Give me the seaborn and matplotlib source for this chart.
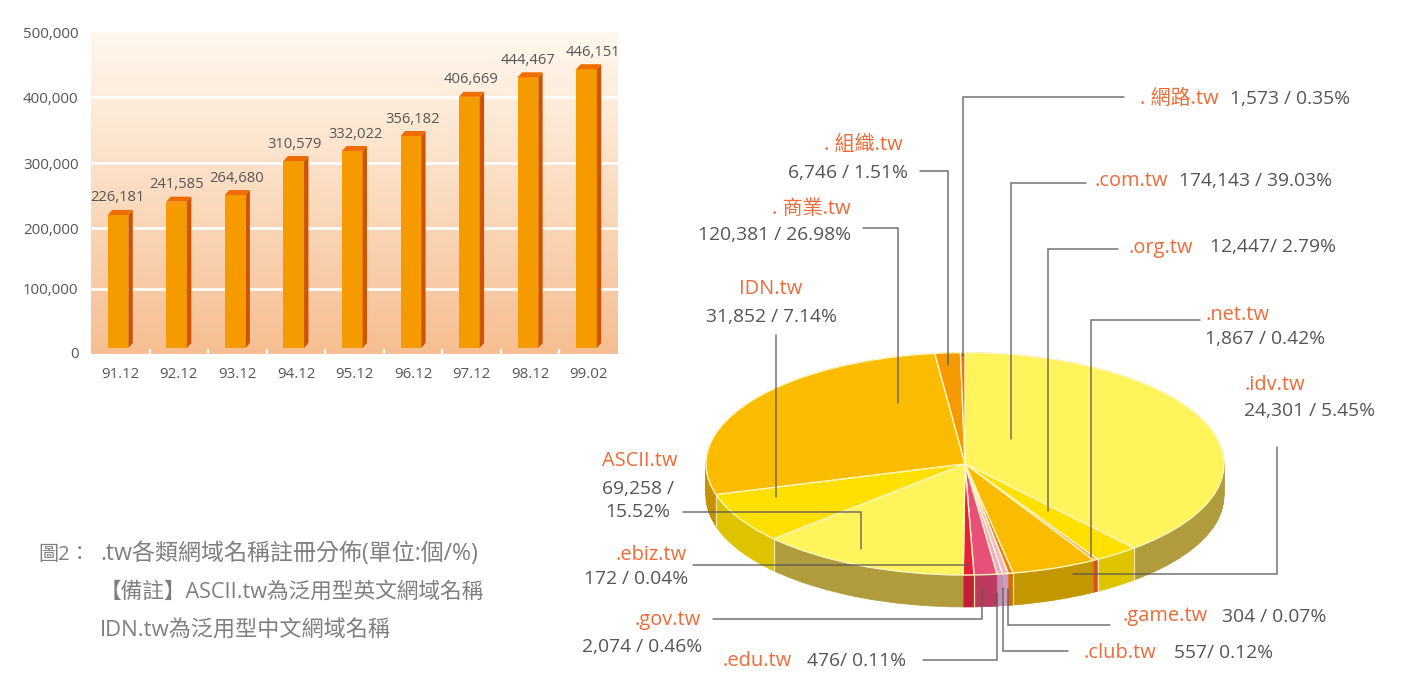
import numpy as np
import matplotlib
matplotlib.use("Agg")
import matplotlib.pyplot as plt
from matplotlib.colors import LinearSegmentedColormap
from matplotlib.patches import Polygon
import seaborn as sns

# ---- bar chart data ----
periods = ["91.12", "92.12", "93.12", "94.12", "95.12", "96.12", "97.12", "98.12", "99.02"]
bar_labels = ["226,181", "241,585", "264,680", "310,579", "332,022", "356,182", "406,669", "444,467", "446,151"]
# heights as drawn in the picture, read against the axis
bar_heights = [215000, 235700, 246000, 299000, 314600, 338000, 399000, 429400, 442000]
label_dx = [-2.5, -2, -0.5, -1.5, 1, -0.5, -0.5, -2, 4]
tick_values = [0, 99700, 194700, 295900, 398000, 500000]
tick_labels = ["0", "100,000", "200,000", "300,000", "400,000", "500,000"]

# ---- pie data (clockwise from the top) ----
slice_names = [".com.tw", ".org.tw", ".net.tw", ".idv.tw", ".game.tw", ".club.tw", ".edu.tw",
               ".gov.tw", ".ebiz.tw", "ASCII.tw", "IDN.tw", ". 商業.tw", ". 組織.tw", ". 網路.tw"]
slice_details = ["174,143 / 39.03%", "12,447/ 2.79%", "1,867 / 0.42%", "24,301 / 5.45%", "304 / 0.07%",
                 "557/ 0.12%", "476/ 0.11%", "2,074 / 0.46%", "172 / 0.04%", "69,258 /\n15.52%",
                 "31,852 / 7.14%", "120,381 / 26.98%", "6,746 / 1.51%", "1,573 / 0.35%"]
# apparent slice sizes (degrees) as drawn in the picture
slice_degrees = [139.3, 9.9, 1.0, 19.1, 1.1, 1.3, 1.2, 5.1, 2.4, 47.2, 26.4, 99.3, 5.7, 1.0]
top_colors = ["#FFF45C", "#FFE000", "#F5A050", "#FBBC00", "#F07A10", "#F0B8D8", "#EDA8CE",
              "#E8507A", "#E8203C", "#FFF45C", "#FFE000", "#FBBC00", "#F59A00", "#F0701E"]
side_colors = ["#B09C3C", "#DEC400", "#D8501E", "#C49600", "#D86A00", "#CC9CBC", "#C690B4",
               "#BC3A60", "#C41E34", "#B09C3C", "#DEC400", "#C69200", "#C67C00", "#C05A18"]

caption_lines = ["圖2：", ".tw各類網域名稱註冊分佈(單位:個/%)", "【備註】ASCII.tw為泛用型英文網域名稱", "IDN.tw為泛用型中文網域名稱"]
caption_sizes = [14.5, 16.6, 15.6, 15.9]

W, H = 1406, 686
BAR_FLOOR = 7800
BAR_W, SIDE_DX, SIDE_DY = 0.352, 0.075, 7800
DEPTH_PX, RX, RY, CX, CY = 32, 259.0, 111.15, 965.0, 463.85

sns.set_theme(style="white")
FONT = ["Open Sans", "Noto Sans CJK TC", "DejaVu Sans"]
plt.rcParams["font.family"] = FONT
DARK, RED = "#555555", "#EE6B38"

fig = plt.figure(figsize=(W / 100, H / 100), dpi=100, facecolor="white")


def rect(x0, y0, x1, y1):
    return [x0 / W, 1 - y1 / H, (x1 - x0) / W, (y1 - y0) / H]


# ---------- bar chart ----------
ax = fig.add_axes(rect(91, 32, 618, 354))
sns.barplot(x=periods, y=bar_heights, color="#F59B00", saturation=1, width=BAR_W, ax=ax, zorder=3)
ymin = -1558
grad = LinearSegmentedColormap.from_list("bg", ["#F6BE92", "#FBDCC0", "#FFF8EE"])
ax.imshow(np.linspace(0, 1, 256)[:, None], origin="lower", cmap=grad, aspect="auto",
          extent=(-0.5, 8.5, ymin, 500000), zorder=0)
ax.hlines(tick_values[1:-1], -0.5, 8.5, color="white", lw=1.9, zorder=1)
for b in np.arange(0.5, 8.5):
    ax.vlines(b, ymin, 6500, color="white", lw=1.6, zorder=1)
for i, p in enumerate(list(ax.patches)):
    h = bar_heights[i]
    l = i - BAR_W / 2 - SIDE_DX / 2
    r = l + BAR_W
    p.set_x(l)
    p.set_y(BAR_FLOOR)
    p.set_height(h - BAR_FLOOR)
    p.set_linewidth(0)
    ax.add_patch(Polygon([(r, BAR_FLOOR), (r + SIDE_DX, BAR_FLOOR + SIDE_DY), (r + SIDE_DX, h + SIDE_DY), (r, h)],
                         closed=True, fc="#CE5400", ec="none", zorder=3))
    ax.add_patch(Polygon([(l, h), (l + SIDE_DX, h + SIDE_DY), (r + SIDE_DX, h + SIDE_DY), (r, h)],
                         closed=True, fc="#EE6C00", ec="none", zorder=3))
    ax.annotate(bar_labels[i], (i, h), xytext=(label_dx[i] * 0.72, 17 * 0.72), textcoords="offset points",
                ha="center", va="center", fontsize=10.6, color=DARK, annotation_clip=False, zorder=5)
ax.set_xlim(-0.5, 8.5)
ax.set_ylim(ymin, 500000)
ax.set_yticks(tick_values, tick_labels)
ax.tick_params(axis="both", length=0, labelsize=10.8, labelcolor=DARK)
ax.tick_params(axis="y", pad=9)
ax.tick_params(axis="x", pad=9)
ax.set_xlabel("")
ax.set_ylabel("")
sns.despine(ax=ax, left=True, bottom=True)

# ---------- pie ----------
pad_x = 10
top_px, bot_px = 343, 617
pax = fig.add_axes(rect(CX - RX - pad_x, top_px, CX + RX + pad_x, bot_px))
depth = DEPTH_PX / RY
for d in np.linspace(depth, 0.0, DEPTH_PX + 1):
    wedges, _ = pax.pie(slice_degrees, colors=side_colors, startangle=90, counterclock=False, center=(0, -d),
                        wedgeprops=dict(linewidth=0.5))
    for w in wedges:
        w.set_edgecolor(w.get_facecolor())
pax.pie(slice_degrees, colors=top_colors, startangle=90, counterclock=False,
        wedgeprops=dict(linewidth=1.0, edgecolor="#FFF6C0"))
ends = np.cumsum(slice_degrees)
for t_deg, size in zip(ends[:-1], slice_degrees[:-1]):
    t = np.radians(t_deg)
    if np.cos(t) < 0 and size > 5:
        px, py = np.sin(t), np.cos(t)
        pax.plot([px, px], [py, py - depth], color="#F2E6A8", lw=0.9, zorder=5)
pax.set_aspect("auto")
pax.set_xlim(-(RX + pad_x) / RX, (RX + pad_x) / RX)
pax.set_ylim((CY - bot_px) / RY, (CY - top_px) / RY)
pax.axis("off")

# ---------- leaders and labels ----------
ov = fig.add_axes([0, 0, 1, 1], facecolor="none")
ov.set_xlim(0, W)
ov.set_ylim(H, 0)
ov.axis("off")

leaders = [
    [(1086, 183), (1011, 183), (1011, 439)],
    [(1118, 249), (1048, 249), (1048, 511)],
    [(1200, 320), (1091, 320), (1091, 557)],
    [(1277, 447), (1277, 574), (1073, 574)],
    [(1110, 625), (1008, 625), (1008, 589)],
    [(1068, 651), (1003, 651), (1003, 588)],
    [(923, 660), (997, 660), (997, 593)],
    [(713, 619), (982, 619), (982, 588)],
    [(693, 565), (968, 565)],
    [(683, 512), (861, 512), (861, 549)],
    [(776, 335), (776, 497)],
    [(863, 228), (898, 228), (898, 403)],
    [(920, 171), (948, 171), (948, 365)],
    [(1124, 97), (963, 97), (963, 356)],
]
for pts in leaders:
    xs, ys = zip(*pts)
    ov.plot(xs, ys, color="#5A5A5A", lw=1.1, alpha=0.85, solid_joinstyle="miter", zorder=6)

name_pos = [(1131, 180), (1160.5, 246), (1237.5, 313), (1275, 384), (1165, 615), (1120, 652), (757, 660),
            (668, 619), (651.5, 553), (640, 459), (771, 288), (811, 207), (863.5, 144), (1179, 97)]
detail_pos = [(1256, 180), (1272.5, 246), (1265.5, 338), (1309.5, 410), (1274.5, 615), (1224, 652), (857, 660),
              (642, 645), (636, 578), (638, 499), (771, 315), (775, 234), (848, 171), (1290, 97)]
for name, det, np_, dp in zip(slice_names, slice_details, name_pos, detail_pos):
    ov.text(np_[0], np_[1] + 1.5, name, color=RED, fontsize=14.4, ha="center", va="center", zorder=7)
    ov.text(dp[0], dp[1] + 1.5, det, color=DARK, fontsize=13.9, ha="center", va="center", zorder=7, linespacing=1.4)

CAP = "#7F7F7F"
caption_pos = [(38, 555), (100, 554), (100, 592), (100, 631)]
for line, size, (cx, cy) in zip(caption_lines, caption_sizes, caption_pos):
    ov.text(cx, cy, line, color=CAP, fontsize=size, ha="left", va="center")

fig.savefig("out.png", dpi=100, facecolor="white")
